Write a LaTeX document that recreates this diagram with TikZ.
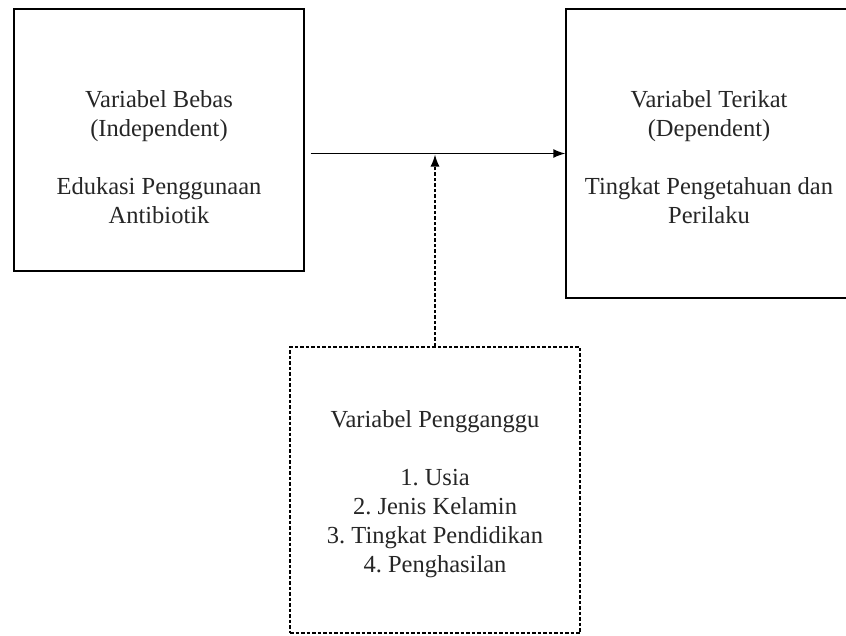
\documentclass[tikz,border=0pt]{standalone}
\usepackage{fontspec}
\setmainfont{Liberation Serif}
\usepackage{tikz}
\usetikzlibrary{arrows.meta}

\tikzset{
  varbox/.style={draw, line width=1.4pt, rectangle, inner sep=0pt},
  ganggubox/.style={varbox, dash pattern=on 3.5pt off 2pt},
  teks/.style={align=center, font=\fontsize{24.5}{29}\selectfont\frenchspacing, text=black!85},
  panah/.style={-{Latex[length=12pt,width=9pt]}, line width=1.4pt}
}

\begin{document}
\begin{tikzpicture}[x=1pt,y=-1pt]
    \useasboundingbox[fill=white] (0,0) rectangle (846,635);

    % Boxes
    \node[varbox, minimum width=290pt, minimum height=262pt] (bebas) at (159,140) {};
    \node[varbox, minimum width=282pt, minimum height=289pt] (terikat) at (707,153.5) {};
    \node[ganggubox, minimum width=290pt, minimum height=286pt] (ganggu) at (435,490) {};

    % Texts
    \node[teks] (tbebas) at (159,157) {Variabel Bebas\\(Independent)\\[29pt]Edukasi Penggunaan\\Antibiotik};
    \node[teks] (tterikat) at (709,157) {Variabel Terikat\\(Dependent)\\[29pt]Tingkat Pengetahuan dan\\Perilaku};
    \node[teks] (tganggu) at (435,494) {Variabel Pengganggu\\[29pt]1. Usia\\2. Jenis Kelamin\\3. Tingkat Pendidikan\\4. Penghasilan};

    % Arrows
    \coordinate (awal) at ([xshift=6pt]bebas.east |- terikat.west);
    \coordinate (temu) at ([yshift=-1pt]ganggu.north |- terikat.west);
    \draw[panah] (awal) -- (terikat.west);
    \draw[panah, dash pattern=on 3.5pt off 2pt] (ganggu.north) -- (temu);
\end{tikzpicture}
\end{document}
